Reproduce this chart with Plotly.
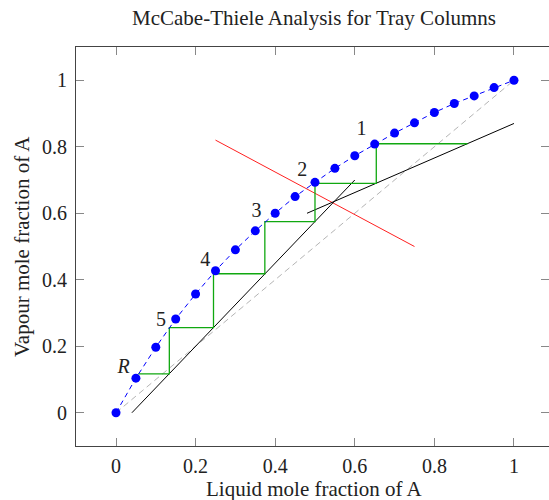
import plotly.graph_objects as go

# Equilibrium curve
eq_x = [0.0, 0.05, 0.1, 0.15, 0.2, 0.25, 0.3, 0.35, 0.4, 0.45, 0.5,
        0.55, 0.6, 0.65, 0.7, 0.75, 0.8, 0.85, 0.9, 0.95, 1.0]
eq_y = [0.0, 0.104, 0.197, 0.282, 0.357, 0.427, 0.490, 0.547, 0.600, 0.650, 0.693,
        0.735, 0.773, 0.808, 0.841, 0.872, 0.903, 0.930, 0.953, 0.978, 1.0]

diag_x = [0.0, 1.0]
diag_y = [0.0, 1.0]

strip_x = [0.04, 0.6]
strip_y = [0.0, 0.7]

rect_x = [0.48, 1.0]
rect_y = [0.6, 0.87]

q_x = [0.25, 0.75]
q_y = [0.82, 0.50]

step_x = [0.883, 0.654, 0.654, 0.50, 0.50, 0.374, 0.374, 0.245, 0.245, 0.134, 0.134, 0.056]
step_y = [0.809, 0.809, 0.690, 0.690, 0.575, 0.575, 0.418, 0.418, 0.256, 0.256, 0.117, 0.117]

label_text = ["1", "2", "3", "4", "5", "<i>R</i>"]
label_x = [0.617, 0.468, 0.353, 0.224, 0.113, 0.019]
label_y = [0.851, 0.727, 0.604, 0.456, 0.277, 0.135]

tick_vals = [0, 0.2, 0.4, 0.6, 0.8, 1]
tick_text = ["0", "0.2", "0.4", "0.6", "0.8", "1"]

FONT = "Liberation Serif"

fig = go.Figure()
fig.add_trace(go.Scatter(x=diag_x, y=diag_y, mode="lines",
                         line=dict(color="#b4b4b4", width=1, dash="6px,4px")))
fig.add_trace(go.Scatter(x=q_x, y=q_y, mode="lines",
                         line=dict(color="#ff2020", width=1)))
fig.add_trace(go.Scatter(x=strip_x, y=strip_y, mode="lines",
                         line=dict(color="black", width=1)))
fig.add_trace(go.Scatter(x=rect_x, y=rect_y, mode="lines",
                         line=dict(color="black", width=1)))
fig.add_trace(go.Scatter(x=step_x, y=step_y, mode="lines",
                         line=dict(color="#10a810", width=1.3)))
fig.add_trace(go.Scatter(x=eq_x, y=eq_y, mode="lines+markers",
                         line=dict(color="blue", width=1, dash="5px,4px"),
                         marker=dict(color="blue", size=9)))
fig.add_trace(go.Scatter(x=label_x, y=label_y, mode="text", text=label_text,
                         textfont=dict(family=FONT, size=20, color="#222")))

axis_common = dict(showgrid=False, zeroline=False, showline=True, linecolor="#444",
                   linewidth=1, mirror="ticks", ticks="inside", ticklen=8,
                   tickcolor="#888", automargin=False,
                   tickfont=dict(family=FONT, size=20, color="#222"))

fig.update_xaxes(range=[-0.1005, 1.088], tickvals=tick_vals, ticktext=tick_text,
                 ticklabelstandoff=2, **axis_common)
fig.update_yaxes(range=[-0.1, 1.1], tickvals=tick_vals, ticktext=tick_text,
                 ticklabelstandoff=4, **axis_common)

W, H = 549, 500
L, R, T, B = 76, 0, 47, 54
fig.update_layout(
    width=W, height=H,
    margin=dict(l=L, r=R, t=T, b=B, autoexpand=False),
    plot_bgcolor="white", paper_bgcolor="white",
    showlegend=False,
    font=dict(family=FONT, color="#222"),
)

pw, ph = W - L - R, H - T - B
def px(xp):
    return (xp - L) / pw
def py(yp):
    return (H - B - yp) / ph

common_ann = dict(xref="paper", yref="paper", showarrow=False,
                  xanchor="center", yanchor="middle",
                  font=dict(family=FONT, size=21, color="#222"))
fig.add_annotation(text="McCabe-Thiele Analysis for Tray Columns", x=px(314), y=py(18),
                   **common_ann)
fig.add_annotation(text="Liquid mole fraction of A", x=px(314), y=py(489), **common_ann)
fig.add_annotation(text="Vapour mole fraction of A", x=px(22), y=py(247),
                   textangle=-90, **common_ann)

fig.write_html("out.html", config={"displayModeBar": False},
               post_script="document.body.style.margin='0';document.body.style.overflow='hidden';")
